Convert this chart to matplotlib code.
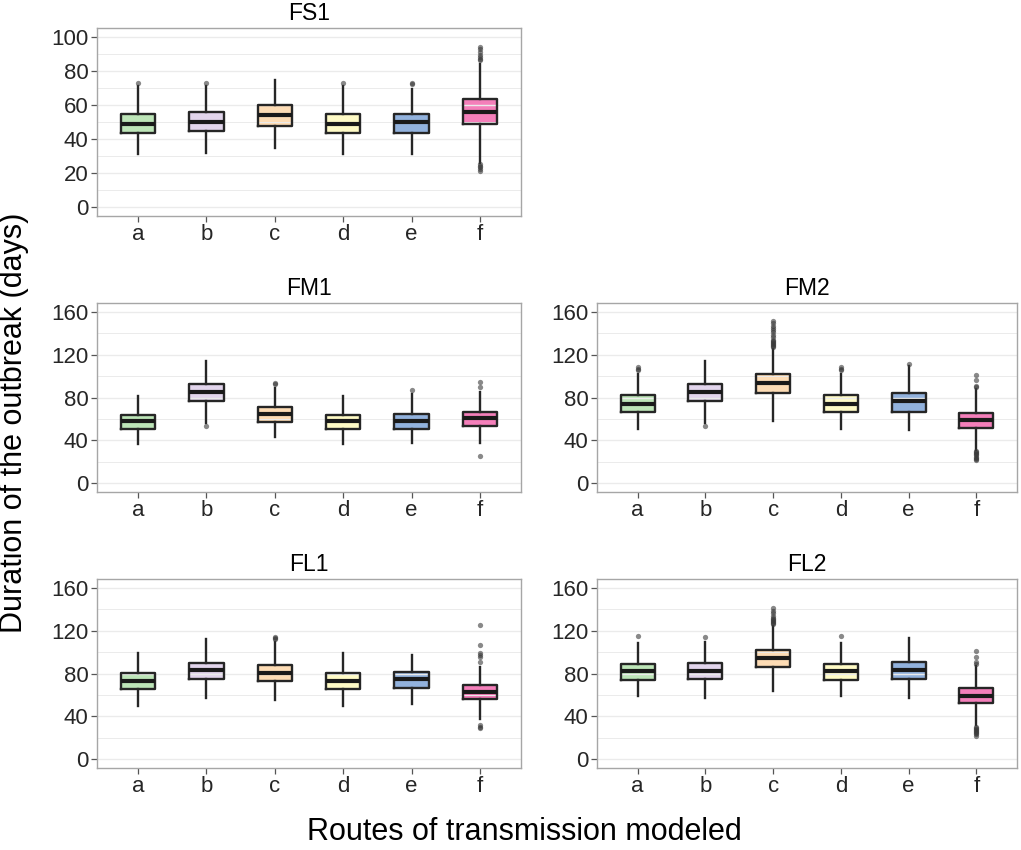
import matplotlib.pyplot as plt
from matplotlib.ticker import MultipleLocator

plt.rcParams['font.family'] = ['Liberation Sans', 'DejaVu Sans']

routes = ['a', 'b', 'c', 'd', 'e', 'f']
colors = ['#BDE5B8', '#E2D5EC', '#FDDCB5', '#FFFBC6', '#92B2DD', '#F47FBA']

# per panel: whisker low, q1, median, q3, whisker high, outliers (one list per route)
fs1_lo = [31, 31.7, 34.8, 31, 31, 26.3]
fs1_q1 = [43.6, 44.7, 47.7, 43.6, 43.6, 48.6]
fs1_med = [49, 50, 53.9, 49, 50, 55.6]
fs1_q3 = [54.7, 55.6, 59.7, 54.7, 54.7, 63.6]
fs1_hi = [70.8, 71, 74.3, 70.8, 69.6, 84]
fs1_out = [[73], [73], [], [73], [72.5, 73], [86, 87, 88, 89, 91, 93, 94, 21.5, 22.5, 23.5, 24.5, 25.5]]

fm1_lo = [36.6, 56.3, 43.1, 36.6, 37.2, 37.2]
fm1_q1 = [50.6, 76.6, 57.5, 50.6, 50.6, 53.8]
fm1_med = [58.4, 85.3, 65, 58.4, 58.4, 60.6]
fm1_q3 = [64, 92.2, 71.3, 64, 65, 66.9]
fm1_hi = [81, 114, 88.8, 81, 82.8, 85.3]
fm1_out = [[], [53], [93, 93.8], [], [86.9], [90, 94.4, 25.6]]

fm2_lo = [51, 56.3, 57.8, 51, 50, 31.3]
fm2_q1 = [66.6, 77.2, 83.8, 66.6, 66.6, 51.9]
fm2_med = [74.4, 85.3, 93.4, 74.4, 76.3, 59]
fm2_q3 = [81.9, 92.2, 102.2, 81.9, 84, 65.9]
fm2_hi = [101.6, 114, 125, 101.6, 109, 87.5]
fm2_out = [[106, 107, 108], [53],
           [127, 128, 129, 130, 131, 132, 133, 134, 136, 138, 141, 143, 145, 147, 149, 151],
           [106, 107, 108], [111.6],
           [89.5, 90.6, 95.9, 100.6, 30, 29, 28, 27, 26, 25, 24, 23, 22]]

fl1_lo = [49.9, 57.1, 55.2, 49.9, 51.5, 37.7]
fl1_q1 = [65.8, 74.9, 72.7, 65.8, 66.8, 55.8]
fl1_med = [73.3, 83, 80.8, 73.3, 74.5, 63]
fl1_q3 = [80.2, 90.1, 88.3, 80.2, 81.7, 68.9]
fl1_hi = [98.9, 111.7, 109.2, 98.9, 97.6, 86.1]
fl1_out = [[], [], [111.7, 113, 113.9], [], [],
           [90.8, 95, 97, 99.2, 107, 124.8, 32.1, 30.5, 29]]

fl2_lo = [59.3, 57.1, 63.3, 59.3, 57.1, 32.1]
fl2_q1 = [73.9, 74.9, 86.1, 73.9, 74.9, 52.1]
fl2_med = [82, 82.7, 94.5, 82, 83, 59.3]
fl2_q3 = [89.2, 90.1, 102, 89.2, 91.1, 66.1]
fl2_hi = [108.2, 109.5, 124.1, 108.2, 112.6, 86.7]
fl2_out = [[114.8], [114.2], [126, 127, 128, 129, 130, 131, 132, 134, 136, 138, 140.7], [114.8], [],
           [89, 90.8, 95.4, 100.7, 30.6, 29.5, 28.5, 27.5, 26.5, 25.5, 24.5, 23.5, 22.1]]

panels = [
    ('FS1', fs1_lo, fs1_q1, fs1_med, fs1_q3, fs1_hi, fs1_out, 100, 20),
    ('FM1', fm1_lo, fm1_q1, fm1_med, fm1_q3, fm1_hi, fm1_out, 160, 40),
    ('FM2', fm2_lo, fm2_q1, fm2_med, fm2_q3, fm2_hi, fm2_out, 160, 40),
    ('FL1', fl1_lo, fl1_q1, fl1_med, fl1_q3, fl1_hi, fl1_out, 160, 40),
    ('FL2', fl2_lo, fl2_q1, fl2_med, fl2_q3, fl2_hi, fl2_out, 160, 40),
]

W, H = 1021, 850
# axes boxes in pixels: left, top, right, bottom
boxes = [(97, 28, 521, 216), (97, 303, 521, 492), (597, 303, 1017, 492),
         (97, 579, 521, 768), (597, 579, 1017, 768)]

fig = plt.figure(figsize=(W / 100, H / 100), dpi=100)

for (name, lo, q1, med, q3, hi, out, ymax, step), (l, t, r, b) in zip(panels, boxes):
    ax = fig.add_axes([l / W, 1 - b / H, (r - l) / W, (b - t) / H])
    stats = [dict(whislo=lo[i], q1=q1[i], med=med[i], q3=q3[i], whishi=hi[i], fliers=out[i])
             for i in range(len(routes))]
    pos = list(range(1, len(routes) + 1))

    # fill pass
    fill = ax.bxp(stats, positions=pos, widths=0.5, patch_artist=True, showcaps=False,
                  showfliers=False, boxprops=dict(linewidth=0),
                  whiskerprops=dict(linewidth=0), medianprops=dict(linewidth=0))
    for patch, c in zip(fill['boxes'], colors):
        patch.set_facecolor(c)
        patch.set_edgecolor('none')
        patch.set_zorder(1)

    # grid sits above the fill, below the outlines
    for y in range(0, ymax + 1, step // 2):
        lw = 1.0 if y % step == 0 else 0.7
        ax.axhline(y, color='#EBEBEB', linewidth=lw, zorder=1.5)

    ax.bxp(stats, positions=pos, widths=0.5, showcaps=False,
           boxprops=dict(color='#262626', linewidth=1.7),
           whiskerprops=dict(color='#262626', linewidth=1.7),
           medianprops=dict(color='#1A1A1A', linewidth=3),
           flierprops=dict(marker='o', markersize=3.8, markerfacecolor='#3A3A3A',
                           markeredgecolor='none', alpha=0.6))

    ax.set_xlim(0.4, 6.6)
    ax.set_ylim(-0.05 * ymax, 1.05 * ymax)
    ax.set_xticks(pos)
    ax.set_xticklabels(routes)
    ax.yaxis.set_major_locator(MultipleLocator(step))
    ax.tick_params(labelsize=16, labelcolor='#262626', color='#555555', length=4, width=0.9, pad=2)
    for s in ax.spines.values():
        s.set_color('#A6A6A6')
        s.set_linewidth(1)
    ax.set_title(name, fontsize=16.5, pad=6)

fig.text(14 / W, 1 - 423 / H, 'Duration of the outbreak (days)', rotation=90,
         ha='center', va='center', fontsize=22)
fig.text(524 / W, 1 - 840 / H, 'Routes of transmission modeled',
         ha='center', va='baseline', fontsize=22)

fig.savefig('out.png', dpi=100)
